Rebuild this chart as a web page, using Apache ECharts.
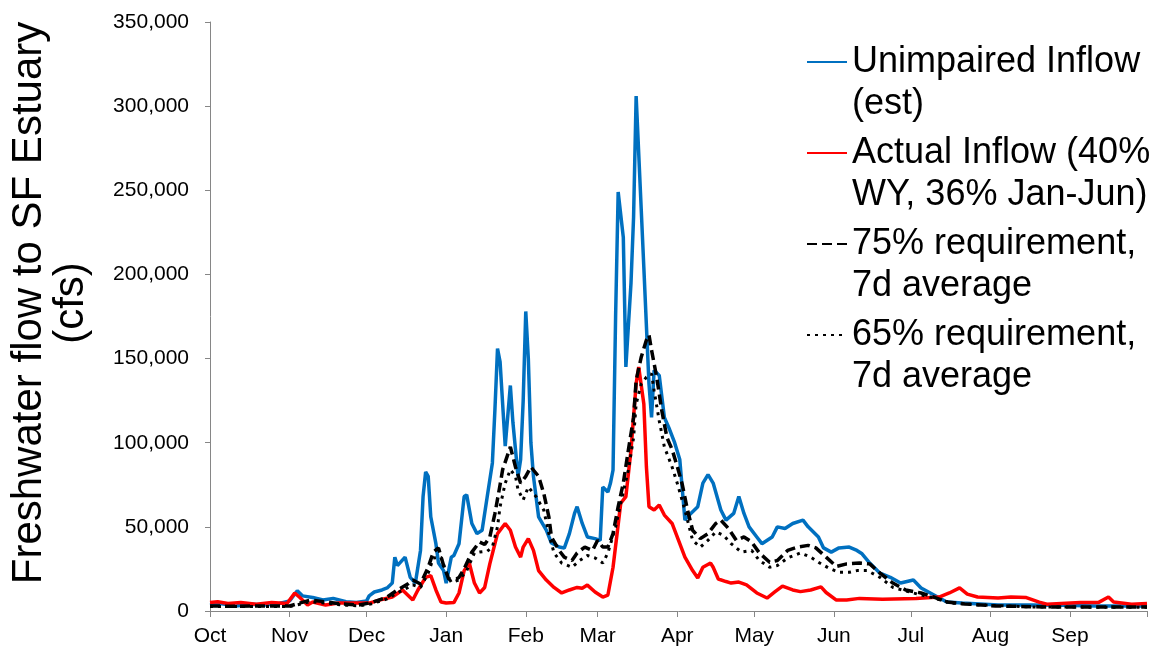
<!DOCTYPE html>
<html>
<head>
<meta charset="utf-8">
<title>Freshwater flow to SF Estuary</title>
<script src="https://cdn.jsdelivr.net/npm/echarts@6/dist/echarts.min.js"></script>
<style>
  html, body { margin: 0; padding: 0; background: #ffffff; }
  #chart { width: 1159px; height: 655px; }
</style>
</head>
<body>
<div id="chart"></div>
<script>
// Water year axis: day 0 = Oct 1, day 365 = end of Sep
const monthStarts = [0, 31, 61, 92, 123, 151, 182, 212, 243, 273, 304, 335, 365];
const monthLabels = ['Oct', 'Nov', 'Dec', 'Jan', 'Feb', 'Mar', 'Apr', 'May', 'Jun', 'Jul', 'Aug', 'Sep', ''];
const yTicks = [0, 50000, 100000, 150000, 200000, 250000, 300000, 350000];

// Unimpaired inflow (est), cfs
const unimpairedDays = [0, 4, 10, 16, 21, 27, 31, 34, 36, 40, 44, 48, 53, 57, 61, 62, 64, 67, 69, 71, 72, 73, 76, 78, 80, 82, 83, 84, 85, 86, 88, 89, 91, 92, 94, 95, 97, 99, 100, 102, 104, 106, 108, 110, 111, 112, 113, 115, 117, 118, 120, 121, 122, 123, 124, 125, 126, 128, 131, 133, 136, 138, 140, 142, 143, 145, 147, 150, 152, 153, 155, 156, 157, 158, 159, 161, 162, 164, 165, 166, 169, 171, 172, 173, 175, 177, 179, 181, 183, 185, 186, 190, 192, 194, 196, 199, 201, 204, 206, 208, 210, 213, 215, 219, 221, 224, 227, 231, 233, 237, 239, 242, 245, 249, 252, 254, 257, 261, 265, 269, 274, 277, 282, 287, 293, 307, 319, 332, 345, 365];
const unimpairedFlow = [3500, 4500, 3000, 4000, 3500, 4500, 6000, 12000, 9000, 8000, 6500, 7500, 5500, 5000, 6000, 9000, 11300, 12500, 13700, 16600, 32000, 27000, 32000, 20000, 16600, 36000, 68000, 82600, 80000, 56000, 40000, 28500, 24000, 16600, 32000, 33000, 40000, 68000, 69000, 52000, 46000, 48000, 68000, 88000, 120000, 156000, 148000, 98000, 134000, 112000, 80000, 90000, 125000, 178000, 150000, 100000, 80000, 56000, 48000, 40400, 38000, 37400, 46000, 58000, 62000, 52000, 44000, 43000, 42000, 73700, 70700, 76000, 83800, 175000, 249000, 222000, 145000, 195000, 234000, 306000, 204000, 135000, 115000, 143000, 140000, 115000, 108000, 100000, 90000, 54000, 56000, 62000, 76000, 81000, 76000, 60000, 54000, 58000, 68000, 58000, 50000, 44000, 40000, 44000, 50000, 49000, 52000, 54000, 50000, 44000, 37500, 35000, 37500, 38000, 36000, 34000, 28500, 22500, 20000, 16600, 18400, 13700, 9500, 5300, 4700, 3600, 3600, 3400, 3000, 3000];

// Actual inflow, cfs
const actualDays = [0, 3, 7, 12, 18, 24, 30, 33, 35, 38, 40, 45, 50, 58, 62, 66, 71, 75, 77, 79, 81, 84, 86, 88, 90, 92, 95, 97, 99, 101, 103, 105, 107, 109, 111, 112, 115, 117, 119, 121, 122, 124, 126, 128, 131, 134, 137, 140, 143, 145, 147, 150, 153, 155, 157, 160, 162, 164, 166, 167, 169, 170, 171, 173, 175, 177, 180, 183, 185, 188, 190, 192, 195, 196, 198, 201, 203, 206, 209, 213, 217, 220, 223, 227, 230, 234, 238, 240, 244, 248, 253, 262, 275, 284, 288, 292, 295, 299, 307, 312, 318, 323, 326, 339, 346, 350, 352, 359, 365];
const actualFlow = [5000, 5500, 4500, 5000, 4000, 5000, 4500, 10700, 8000, 3600, 5300, 3600, 4700, 4700, 4700, 6500, 8300, 12500, 9500, 6500, 12500, 20000, 21000, 12500, 5300, 4700, 5000, 10700, 24000, 28500, 16600, 10700, 14000, 28000, 40000, 46000, 52000, 48000, 38000, 32000, 38000, 43000, 36000, 24000, 18400, 14000, 10700, 12500, 14000, 13500, 15400, 11300, 8300, 9500, 26000, 64000, 68000, 95700, 135000, 145000, 123000, 85600, 62000, 60000, 63000, 57000, 52000, 40000, 32000, 24000, 19600, 26000, 28500, 26000, 19000, 17500, 16600, 17200, 15500, 10700, 7700, 11300, 14800, 12500, 11500, 12500, 14300, 11000, 6500, 6500, 7500, 7000, 7500, 8300, 10700, 13700, 10000, 8300, 7700, 8300, 8000, 5300, 4000, 5000, 5000, 8300, 5300, 4000, 4500];

// 75% requirement, 7-day average, cfs
const req75Days = [0, 10, 20, 31, 39, 46, 51, 58, 63, 69, 73, 77, 79, 82, 85, 87, 89, 91, 93, 96, 97, 99, 102, 105, 107, 109, 111, 113, 114, 117, 119, 121, 123, 125, 128, 130, 132, 133, 136, 138, 141, 143, 146, 149, 151, 153, 155, 157, 159, 161, 163, 165, 166, 168, 170, 171, 172, 174, 176, 178, 180, 182, 184, 186, 188, 191, 194, 197, 199, 202, 205, 208, 211, 214, 218, 221, 225, 229, 233, 236, 240, 244, 248, 253, 257, 261, 266, 271, 277, 282, 287, 294, 306, 326, 365];
const req75Flow = [3000, 2800, 3000, 3000, 6500, 5300, 4200, 3600, 5000, 8300, 12500, 16000, 18400, 16000, 26000, 35000, 37500, 27000, 19000, 19000, 20000, 25000, 35000, 41000, 39500, 44000, 58000, 75000, 84000, 97500, 85600, 76000, 80000, 85600, 80000, 70000, 56000, 44000, 36000, 32000, 30000, 34500, 38000, 36000, 42000, 38000, 38000, 46000, 62000, 76000, 96000, 115000, 137000, 151000, 161000, 164000, 155000, 139000, 119000, 103000, 96000, 86000, 75000, 60000, 48000, 43000, 46000, 52000, 54000, 49000, 42000, 44000, 41000, 34500, 29000, 30000, 36000, 38000, 39000, 37500, 32000, 26500, 28000, 28500, 28000, 22500, 16600, 12500, 10700, 8300, 5300, 4200, 3000, 2400, 2400];

// 65% requirement, 7-day average, cfs
const req65Days = [0, 20, 31, 39, 46, 51, 58, 63, 69, 73, 77, 79, 82, 85, 87, 90, 92, 94, 97, 100, 103, 105, 108, 110, 112, 113, 115, 117, 119, 120, 122, 124, 127, 130, 132, 134, 137, 141, 144, 147, 150, 153, 155, 158, 160, 163, 165, 166, 168, 170, 172, 173, 175, 177, 180, 182, 185, 188, 191, 194, 197, 200, 203, 207, 211, 214, 218, 221, 225, 230, 234, 237, 241, 245, 249, 252, 256, 261, 266, 274, 282, 289, 300, 320, 365];
const req65Flow = [2600, 2600, 2600, 5500, 4600, 3600, 3100, 4300, 7200, 10800, 13900, 15500, 14000, 22500, 31500, 32000, 23000, 17000, 18400, 24000, 34500, 35000, 35500, 38000, 50000, 62000, 76000, 84000, 80000, 72000, 66000, 73700, 68000, 60000, 46000, 34500, 28500, 26000, 30000, 33000, 31500, 28500, 34500, 50000, 64000, 84000, 103000, 123000, 135000, 139000, 141000, 131000, 113000, 97500, 85600, 76000, 60000, 42000, 38000, 42000, 47000, 45000, 40000, 35000, 36000, 30000, 26000, 27000, 31500, 34500, 32000, 29000, 25500, 23000, 23000, 24000, 24000, 20000, 14000, 10700, 7700, 4700, 3600, 2400, 2200];

const seriesNames = [
  'Unimpaired Inflow\n(est)',
  'Actual Inflow (40%\nWY, 36% Jan-Jun)',
  '75% requirement,\n7d average',
  '65% requirement,\n7d average'
];

const FONT = '"Liberation Sans", Arial, sans-serif';
const AXIS_GREY = '#868686';

function pairs(days, values) {
  return days.map((d, i) => [d, values[i]]);
}

const chart = echarts.init(document.getElementById('chart'), null, { renderer: 'canvas' });

chart.setOption({
  animation: false,
  backgroundColor: '#ffffff',
  textStyle: { fontFamily: FONT },
  grid: {
    left: 210, right: 12, top: 22, bottom: 44,
    containLabel: false,
    outerBoundsMode: 'none'
  },
  legend: {
    data: seriesNames,
    orient: 'vertical',
    left: 801,
    top: -6,
    padding: 5,
    itemWidth: 40,
    itemHeight: 14,
    itemGap: -35,
    selectedMode: false,
    // a leading blank line puts the first text line level with the key line
    formatter: name => '\n' + name,
    itemStyle: { opacity: 0, borderWidth: 0 },
    textStyle: {
      fontFamily: FONT,
      fontSize: 36,
      lineHeight: 42,
      color: '#000000'
    }
  },
  xAxis: {
    type: 'value',
    min: 0,
    max: 365,
    splitLine: { show: false },
    axisLine: { show: true, lineStyle: { color: AXIS_GREY, width: 1 } },
    axisTick: {
      show: true,
      length: 6,
      inside: false,
      customValues: monthStarts,
      lineStyle: { color: AXIS_GREY, width: 1 }
    },
    axisLabel: {
      customValues: monthStarts.slice(0, 12),
      formatter: v => monthLabels[monthStarts.indexOf(v)],
      fontFamily: FONT,
      fontSize: 21,
      color: '#000000',
      margin: 15
    }
  },
  yAxis: {
    type: 'value',
    min: 0,
    max: 350000,
    interval: 50000,
    name: 'Freshwater flow to SF Estuary\n(cfs)',
    nameLocation: 'middle',
    nameRotate: 90,
    nameGap: 118,
    nameTextStyle: {
      fontFamily: FONT,
      fontSize: 42,
      lineHeight: 42,
      color: '#000000',
      padding: [0, 0, 0, 27]
    },
    splitLine: { show: false },
    axisLine: { show: true, lineStyle: { color: AXIS_GREY, width: 1 } },
    axisTick: { show: true, length: 5, lineStyle: { color: AXIS_GREY, width: 1 } },
    axisLabel: {
      formatter: v => (yTicks.indexOf(v) >= 0 ? v.toLocaleString('en-US') : ''),
      fontFamily: FONT,
      fontSize: 21,
      color: '#000000',
      margin: 21
    }
  },
  series: [
    {
      name: seriesNames[0],
      type: 'line',
      data: pairs(unimpairedDays, unimpairedFlow),
      symbol: 'none',
      lineStyle: { color: '#0070C0', width: 3.5 },
      itemStyle: { color: '#0070C0' },
      z: 2
    },
    {
      name: seriesNames[1],
      type: 'line',
      data: pairs(actualDays, actualFlow),
      symbol: 'none',
      lineStyle: { color: '#FF0000', width: 3.5 },
      itemStyle: { color: '#FF0000' },
      z: 3
    },
    {
      name: seriesNames[2],
      type: 'line',
      data: pairs(req75Days, req75Flow),
      symbol: 'none',
      lineStyle: { color: '#000000', width: 3.5, type: [10, 5] },
      itemStyle: { color: '#000000' },
      z: 4
    },
    {
      name: seriesNames[3],
      type: 'line',
      data: pairs(req65Days, req65Flow),
      symbol: 'none',
      lineStyle: { color: '#000000', width: 3, type: [3, 5] },
      itemStyle: { color: '#000000' },
      z: 5
    }
  ]
});
</script>
</body>
</html>
